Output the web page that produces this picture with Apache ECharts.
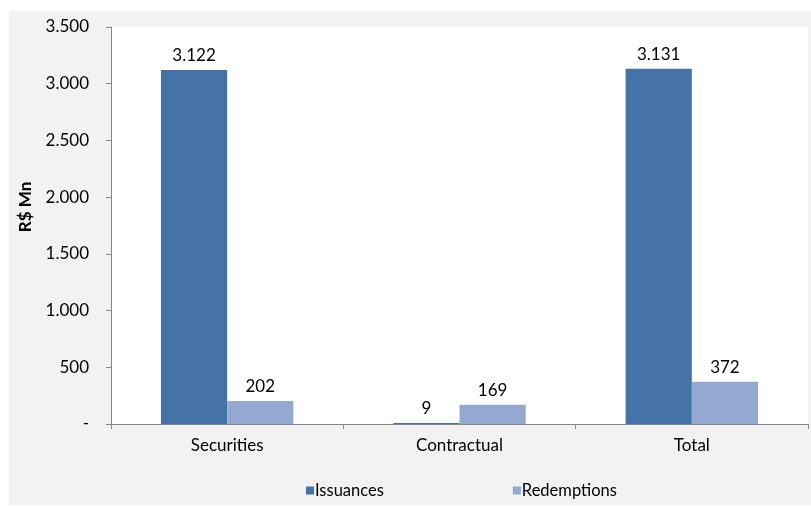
<!DOCTYPE html>
<html>
<head>
<meta charset="utf-8">
<script src="https://cdn.jsdelivr.net/npm/echarts@6/dist/echarts.min.js"></script>
<style>
  html, body { margin: 0; padding: 0; background: #ffffff; }
  #chart { width: 811px; height: 507px; }
</style>
</head>
<body>
<div id="chart"></div>
<script>
// Issuances and redemptions by instrument type (R$ Mn)
const categories = ['Securities', 'Contractual', 'Total'];
const issuances = [3122, 9, 3131];
const redemptions = [202, 169, 372];
const yTicks = [0, 500, 1000, 1500, 2000, 2500, 3000, 3500];

// Brazilian-style thousands separator; zero shown as a dash
function fmt(v) {
  if (v === 0) return '-';
  return String(Math.round(v)).replace(/\B(?=(\d{3})+(?!\d))/g, '.');
}

const FONT = 'Lato';
const FS = 17;
const chart = echarts.init(document.getElementById('chart'), null, { renderer: 'canvas' });

chart.setOption({
  animation: false,
  backgroundColor: '#ffffff',
  textStyle: { fontFamily: FONT },
  graphic: [{
    type: 'rect',
    z: -10,
    shape: { x: 9, y: 11, width: 802, height: 494 },
    style: { fill: '#f2f2f2' },
    silent: true
  }],
  grid: {
    left: 111, top: 27, right: 3, bottom: 83,
    show: true, backgroundColor: '#ffffff', borderWidth: 0
  },
  legend: {
    bottom: 3,
    left: 301,
    itemWidth: 8, itemHeight: 8,
    itemGap: 129,
    icon: 'rect',
    textStyle: { fontFamily: FONT, fontSize: 16.5, color: '#000000', padding: [0, 0, 0, -4] },
    data: ['Issuances', 'Redemptions']
  },
  xAxis: {
    type: 'category',
    data: categories,
    axisLine: { lineStyle: { color: '#868686', width: 1 } },
    axisTick: { show: true, length: 5, lineStyle: { color: '#868686' } },
    axisLabel: { fontFamily: FONT, fontSize: FS, color: '#000000', margin: 13 }
  },
  yAxis: {
    type: 'value',
    min: 0, max: 3500, interval: 500,
    name: 'R$ Mn',
    nameLocation: 'middle',
    nameGap: 77,
    nameRotate: 90,
    nameTextStyle: {
      fontFamily: FONT, fontSize: FS, fontWeight: 'bold', color: '#000000',
      padding: [0, 0, 0, 37]
    },
    splitLine: { show: false },
    axisLine: { show: true, lineStyle: { color: '#868686', width: 1 } },
    axisTick: { show: true, length: 5, lineStyle: { color: '#868686' } },
    axisLabel: {
      fontFamily: FONT, fontSize: FS, color: '#000000', margin: 22,
      formatter: function (v) { return yTicks.indexOf(v) >= 0 ? fmt(v) : ''; }
    }
  },
  series: [
    {
      name: 'Issuances', type: 'bar', data: issuances,
      barGap: '0%', barCategoryGap: '43%',
      itemStyle: { color: '#4572a7' },
      label: {
        show: true, position: 'top', distance: 6,
        fontFamily: FONT, fontSize: FS, color: '#000000',
        formatter: function (p) { return fmt(p.value); }
      }
    },
    {
      name: 'Redemptions', type: 'bar', data: redemptions,
      barGap: '0%', barCategoryGap: '43%',
      itemStyle: { color: '#93a9cf' },
      label: {
        show: true, position: 'top', distance: 6,
        fontFamily: FONT, fontSize: FS, color: '#000000',
        formatter: function (p) { return fmt(p.value); }
      }
    }
  ]
});
</script>
</body>
</html>
